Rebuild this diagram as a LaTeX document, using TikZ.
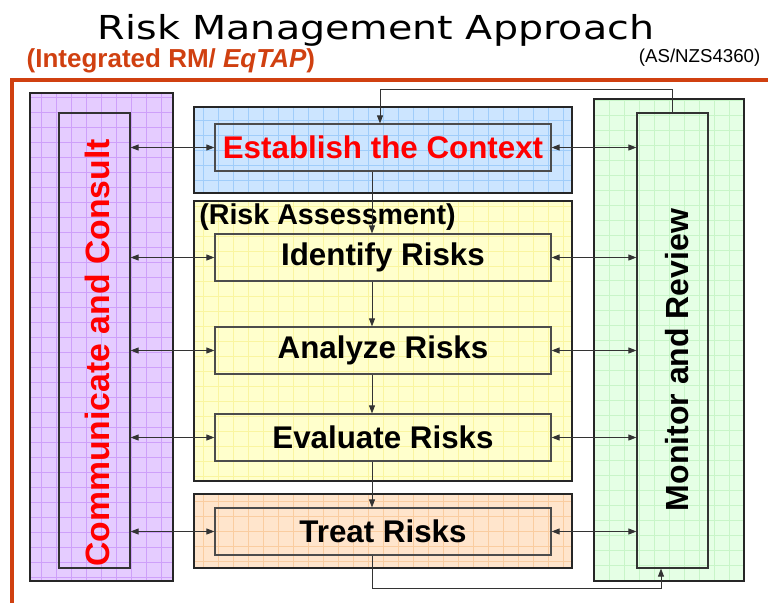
\documentclass[tikz,border=0pt]{standalone}
\usepackage{fontspec}
\setmainfont{Liberation Sans}
\newfontfamily\titlefont{DejaVu Sans}
\usetikzlibrary{arrows.meta}

\definecolor{frameorange}{RGB}{208,64,16}
\definecolor{lilacfill}{RGB}{229,204,255}
\definecolor{lilacgrid}{RGB}{206,160,250}
\definecolor{skyfill}{RGB}{204,229,255}
\definecolor{skygrid}{RGB}{160,205,250}
\definecolor{lemonfill}{RGB}{255,255,204}
\definecolor{lemongrid}{RGB}{250,245,160}
\definecolor{peachfill}{RGB}{255,229,204}
\definecolor{peachgrid}{RGB}{250,205,160}
\definecolor{mintfill}{RGB}{229,255,229}
\definecolor{mintgrid}{RGB}{200,245,200}

\begin{document}
\begin{tikzpicture}[x=0.75pt, y=-0.75pt,
    >={Triangle[length=6pt,width=4.5pt]},
    boxsize/.style 2 args={minimum width=#1*0.75pt, minimum height=#2*0.75pt},
    gridbox/.style 2 args={draw=black!85, line width=0.9pt, inner sep=0pt, fill=#1,
        path picture={\draw[#2, line width=0.4pt] (path picture bounding box.south west) grid[step=11.25pt] (path picture bounding box.north east);}},
    stage/.style={draw=black!70, line width=0.9pt, inner sep=0pt, boxsize={336}{47},
        font=\bfseries\fontsize{23.5pt}{28pt}\selectfont},
    side/.style={draw=black!80, line width=0.9pt, inner sep=0pt, boxsize={71}{455}},
    sidetext/.style={inner sep=0pt, font=\bfseries\fontsize{24pt}{28pt}\selectfont},
    link/.style={black!80, line width=0.6pt}
]
\useasboundingbox (0,0) rectangle (768,603);

% heading
\node[anchor=base, font=\titlefont\fontsize{24.75pt}{30pt}\selectfont] (title) at (376,39)
    {\scalebox{1.2}[1]{Risk Management Approach}};
\node[anchor=base west, text=frameorange, font=\bfseries\fontsize{19.5pt}{24pt}\selectfont] (subtitle) at (22,67)
    {(Integrated RM/ \textit{EqTAP})};
\node[anchor=base east, font=\fontsize{14pt}{17pt}\selectfont] (standard) at (765,62) {(AS/NZS4360)};
\draw[frameorange, line width=2.7pt] (12,610) -- (12,80) -- (775,80);

% coloured panels
\node[gridbox={lilacfill}{lilacgrid}, boxsize={143}{488}] (commpanel) at (101.5,337) {};
\node[gridbox={skyfill}{skygrid}, boxsize={378}{86}] (contextpanel) at (383,150) {};
\node[gridbox={lemonfill}{lemongrid}, boxsize={378}{280}] (assesspanel) at (383,341) {};
\node[gridbox={peachfill}{peachgrid}, boxsize={378}{74}] (treatpanel) at (383,531) {};
\node[gridbox={mintfill}{mintgrid}, boxsize={150}{482}] (monitorpanel) at (669,340) {};

% steps
\node[side] (comm) at (94.5,340.5) {};
\node[side] (monitor) at (672.5,340.5) {};
\node[sidetext, text=red, font=\bfseries\fontsize{25.3pt}{30pt}\selectfont] (commlabel) at (97,353)
    {\rotatebox{90}{Communicate and Consult}};
\node[sidetext] (monitorlabel) at (677,360) {\rotatebox{90}{Monitor and Review}};

\node[stage, text=red] (context) at (383,147.5) {Establish the Context};
\node[anchor=west, font=\bfseries\fontsize{21.5pt}{25pt}\selectfont, inner sep=0pt] (assesslabel) at (199,217) {(Risk Assessment)};
\node[stage] (identify) at (383,257.5) {Identify Risks};
\node[stage] (analyze) at (383,350.5) {Analyze Risks};
\node[stage] (evaluate) at (383,437.5) {Evaluate Risks};
\node[stage] (treat) at (383,531.5) {Treat Risks};

% connectors
\coordinate (spine) at (372,0);
\coordinate (looptop) at (380,89);
\coordinate (loopbot) at (372,588);
\coordinate (loopend) at (661,0);

\foreach \s in {context,identify,analyze,evaluate,treat} {
    \draw[link, <->] (\s.west -| comm.east) -- (\s.west);
    \draw[link, <->] (\s.east) -- (\s.east -| monitor.west);
}
\draw[link, ->] (context.south -| spine) -- (identify.north -| spine);
\draw[link, ->] (identify.south -| spine) -- (analyze.north -| spine);
\draw[link, ->] (analyze.south -| spine) -- (evaluate.north -| spine);
\draw[link, ->] (evaluate.south -| spine) -- (treat.north -| spine);
\draw[link, ->] (monitor.north) |- (looptop) -- (looptop |- context.north);
\draw[link, ->] (treat.south -| spine) -- (loopbot) -| (monitor.south -| loopend);

\end{tikzpicture}
\end{document}
